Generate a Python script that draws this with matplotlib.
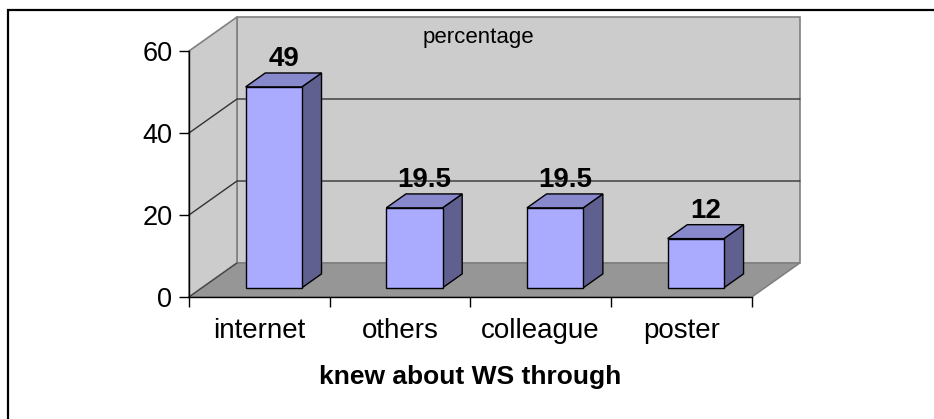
import matplotlib
matplotlib.use("Agg")
import matplotlib.pyplot as plt
from matplotlib.patches import Polygon, Rectangle

plt.rcParams['font.family'] = ['Liberation Sans', 'DejaVu Sans']

# data
categories = ["internet", "others", "colleague", "poster"]
values = [49, 19.5, 19.5, 12]
value_labels = ["49", "19.5", "19.5", "12"]
y_ticks = [0, 20, 40, 60]
x_title = "knew about WS through"
wall_title = "percentage"

W, H = 934, 419
fig = plt.figure(figsize=(W / 100, H / 100), dpi=100)

# axes placed so that the front plane of the 3d box matches the picture
ax = fig.add_axes([189 / W, (H - 297) / H, (751.7 - 189) / W, (297 - 51) / H])
n = len(categories)
ymax = y_ticks[-1]
ax.set_xlim(0, n)
ax.set_ylim(0, ymax)

# depth offset of the back wall, in data units (48 px right, 34 px up)
DX = 48 / ((751.7 - 189) / n)
DY = 34 / ((297 - 51) / ymax)

wall = '#CCCCCC'
floor = '#969696'
edge = '#808080'

# back wall, left wall, floor
ax.add_patch(Polygon([(DX, DY), (n + DX, DY), (n + DX, ymax + DY), (DX, ymax + DY)],
                     closed=True, fc=wall, ec=edge, lw=1.2, clip_on=False, zorder=0))
ax.add_patch(Polygon([(0, 0), (DX, DY), (DX, ymax + DY), (0, ymax)],
                     closed=True, fc=wall, ec=edge, lw=1.2, clip_on=False, zorder=0))
ax.add_patch(Polygon([(0, 0), (n, 0), (n + DX, DY), (DX, DY)],
                     closed=True, fc=floor, ec=edge, lw=1.2, clip_on=False, zorder=0.5))
ax.plot([0, DX], [0, DY], color='#404040', lw=0.8, clip_on=False, zorder=0.6)

# gridlines on back and left walls
for v in y_ticks[1:-1]:
    ax.plot([0, DX, n + DX], [v, v + DY, v + DY], color='#333333', lw=1.0,
            clip_on=False, zorder=0.4)

# 3d bars
f0, fd = 0.27, 0.41     # front depth and depth of bars (fraction of box depth)
bw, off = 0.40, 0.51
front_c, top_c, side_c = '#AAAAFF', '#8888CC', '#606090'
for i, v in enumerate(values):
    x0 = i + off - bw / 2 + f0 * DX
    y0 = f0 * DY
    x1 = x0 + bw
    ddx, ddy = fd * DX, fd * DY
    ax.add_patch(Polygon([(x1, y0), (x1 + ddx, y0 + ddy), (x1 + ddx, y0 + ddy + v), (x1, y0 + v)],
                         closed=True, fc=side_c, ec='black', lw=1.0, clip_on=False, zorder=3))
    ax.add_patch(Polygon([(x0, y0 + v), (x1, y0 + v), (x1 + ddx, y0 + ddy + v), (x0 + ddx, y0 + ddy + v)],
                         closed=True, fc=top_c, ec='black', lw=1.0, clip_on=False, zorder=3))
    ax.add_patch(Rectangle((x0, y0), bw, v, fc=front_c, ec='black', lw=1.0,
                           clip_on=False, zorder=4))
    ax.annotate(value_labels[i], (x0 + bw / 2 + ddx / 2, y0 + v + ddy / 2),
                xytext=(0, 10), textcoords='offset points', ha='center', va='baseline',
                fontsize=20, fontweight='bold', zorder=5, annotation_clip=False)

# axes, ticks and labels
for s in ['top', 'right']:
    ax.spines[s].set_visible(False)
for s in ['left', 'bottom']:
    ax.spines[s].set_color('black')
    ax.spines[s].set_linewidth(1.0)
    ax.spines[s].set_zorder(2)
ax.patch.set_visible(False)

ax.set_yticks(y_ticks)
ax.set_yticklabels([str(t) for t in y_ticks], fontsize=19.5)
ax.tick_params(axis='y', direction='out', length=7, width=1, pad=5)

ax.set_xticks(range(n + 1))
ax.set_xticklabels([])
ax.tick_params(axis='x', which='major', direction='out', length=7, width=1)
ax.set_xticks([i + 0.5 for i in range(n)], minor=True)
ax.set_xticklabels(categories, minor=True, fontsize=20)
ax.tick_params(axis='x', which='minor', length=0, pad=15)

ax.set_xlabel(x_title, fontsize=19, fontweight='bold', labelpad=15)

fig.text(478.5 / W, 1 - 43.3 / H, wall_title, ha='center', va='baseline', fontsize=16)

# chart border (right and bottom fall outside the image)
fig.add_artist(Rectangle((7.5 / W, -0.1), 1.0, 1.1 - 10 / H, transform=fig.transFigure,
                         fill=False, ec='black', lw=1.6))

fig.savefig("out.png", dpi=100)
